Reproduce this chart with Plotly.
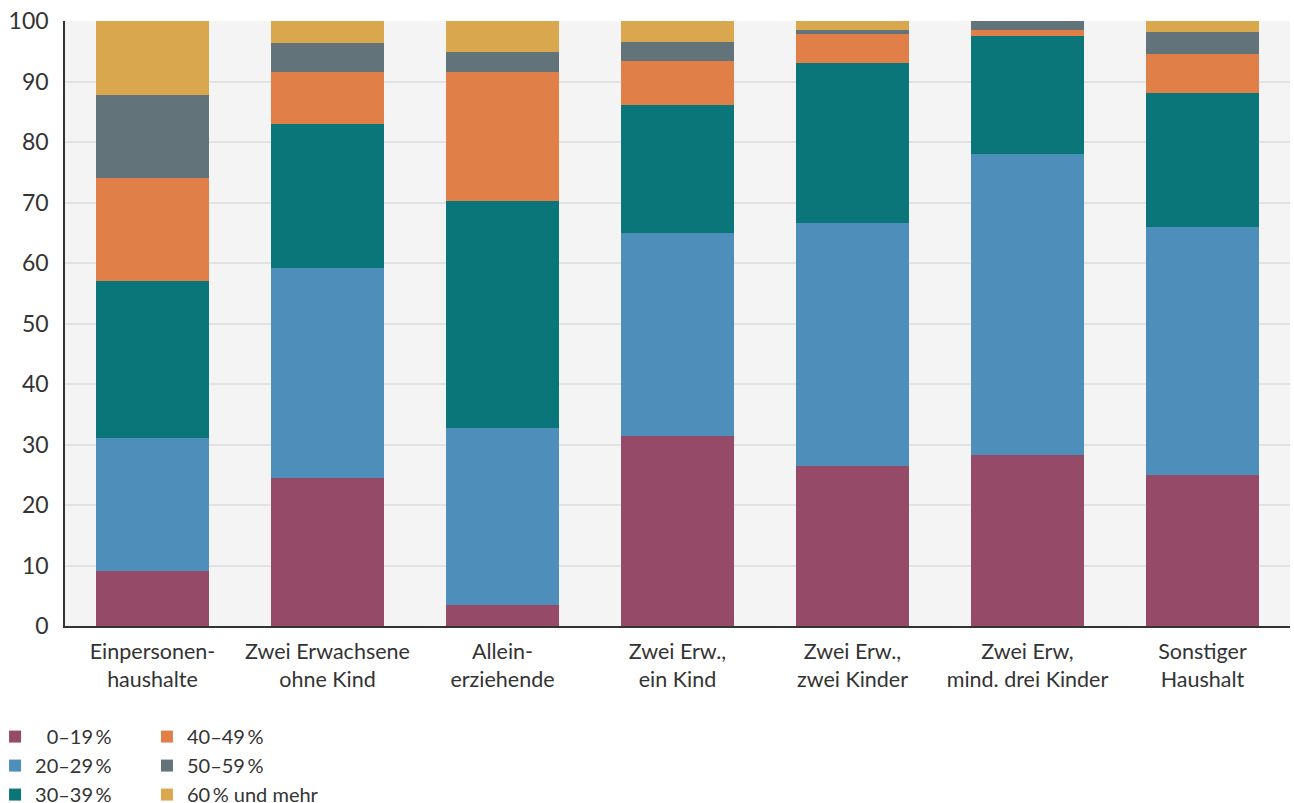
import plotly.graph_objects as go

categories = [
    "Einpersonen-<br>haushalte",
    "Zwei Erwachsene<br>ohne Kind",
    "Allein-<br>erziehende",
    "Zwei Erw.,<br>ein Kind",
    "Zwei Erw.,<br>zwei Kinder",
    "Zwei Erw,<br>mind. drei Kinder",
    "Sonstiger<br>Haushalt",
]

series_names = ["\u20070–19\u2009%", "20–29\u2009%", "30–39\u2009%", "40–49\u2009%", "50–59\u2009%", "60\u2009% und mehr"]

s_0_19 = [9.1, 24.5, 3.5, 31.4, 26.4, 28.3, 25.0]
s_20_29 = [22.0, 34.7, 29.2, 33.6, 40.2, 49.7, 41.0]
s_30_39 = [25.9, 23.8, 37.5, 21.1, 26.5, 19.5, 22.1]
s_40_49 = [17.0, 8.6, 21.4, 7.3, 4.8, 1.0, 6.4]
s_50_59 = [13.8, 4.8, 3.3, 3.1, 0.6, 1.7, 3.7]
s_60_plus = [12.2, 3.6, 5.1, 3.5, 1.5, 0.0, 1.8]

values = [s_0_19, s_20_29, s_30_39, s_40_49, s_50_59, s_60_plus]
colors = ["#954a68", "#4d8eba", "#0b7679", "#e07f48", "#627379", "#d9a84e"]
legends = ["legend", "legend", "legend", "legend2", "legend2", "legend2"]

FONT = "Lato"
TXT = "#333333"

fig = go.Figure()
for name, vals, col, lg in zip(series_names, values, colors, legends):
    fig.add_trace(go.Bar(
        x=categories, y=vals, name=name, marker_color=col,
        marker_line_width=0, legend=lg, legendgroup=name,
    ))

legend_common = dict(
    orientation="v", traceorder="normal", tracegroupgap=1,
    bgcolor="rgba(0,0,0,0)", font=dict(family=FONT, size=20, color=TXT),
    xref="paper", yref="container", yanchor="top", xanchor="left",
)

fig.update_layout(
    barmode="stack",
    bargap=0.35,
    width=1294, height=803,
    margin=dict(l=65, r=4, t=21, b=177, autoexpand=False),
    paper_bgcolor="white",
    plot_bgcolor="#f4f4f4",
    font=dict(family=FONT, color=TXT),
    legend=dict(x=-0.0571, y=0.107, **legend_common),
    legend2=dict(x=0.0669, y=0.107, **legend_common),
    xaxis=dict(
        showgrid=False, showline=True, linecolor="#333333", linewidth=1.5,
        tickfont=dict(family=FONT, size=21.5, color=TXT), ticks="",
        tickangle=0, automargin=False, ticklabelstandoff=5,
    ),
    yaxis=dict(
        range=[0, 100], dtick=10, showgrid=True, gridcolor="#e2e2e2", gridwidth=1.5,
        showline=True, linecolor="#333333", linewidth=1.5, zeroline=False,
        tickfont=dict(family=FONT, size=23, color=TXT), ticks="", ticklabelstandoff=10,
        automargin=False,
    ),
)

fig.write_html("out.html", config={"displayModeBar": False},
               post_script="document.body.style.margin='0';")
